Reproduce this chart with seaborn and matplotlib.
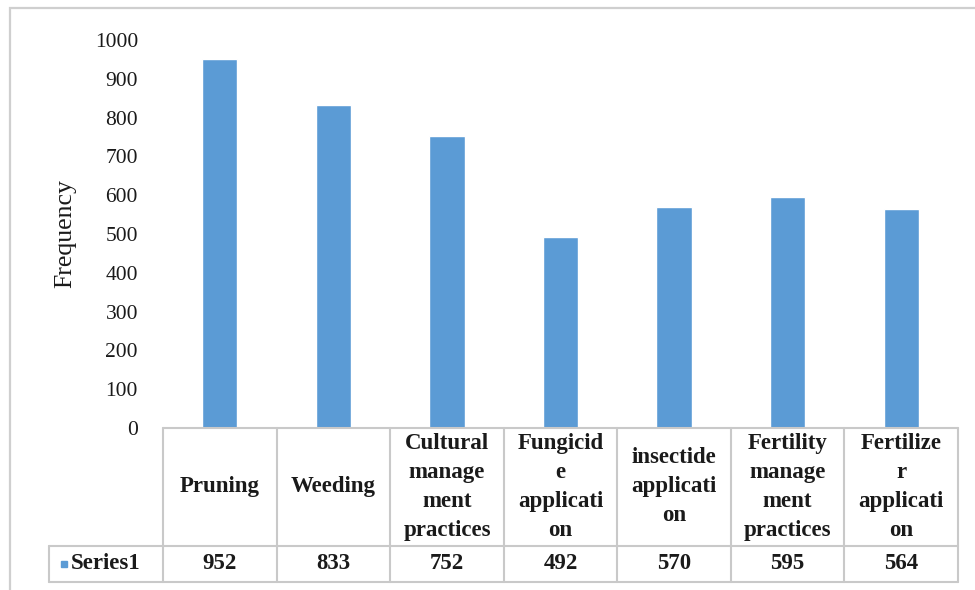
import matplotlib
matplotlib.use("Agg")
import matplotlib.pyplot as plt
from matplotlib.patches import Rectangle
import seaborn as sns
import pandas as pd

# Data
practices = [
    "Pruning",
    "Weeding",
    "Cultural\nmanage\nment\npractices",
    "Fungicid\ne\napplicati\non",
    "insectide\napplicati\non",
    "Fertility\nmanage\nment\npractices",
    "Fertilize\nr\napplicati\non",
]
frequency = [952, 833, 752, 492, 570, 595, 564]
series_name = "Series1"
y_ticks = [0, 100, 200, 300, 400, 500, 600, 700, 800, 900, 1000]

df = pd.DataFrame({"practice": practices, "frequency": frequency})

sns.set_theme(style="white")
plt.rcParams["font.family"] = ["Liberation Serif", "DejaVu Serif"]

BAR = "#5B9BD5"
GRID = "#C9C9C9"
TXT = "#1a1a1a"

W, H = 975, 590
fig = plt.figure(figsize=(W / 100, H / 100), dpi=100)
fig.patch.set_facecolor("white")

# chart-area frame
fig.patches.append(Rectangle((10 / W, -0.05), 1.2, (H - 8) / H + 0.05,
                             transform=fig.transFigure, fill=False,
                             edgecolor="#CFCFCF", lw=1.6, zorder=0))

ax = fig.add_axes([163 / W, (H - 428) / H, (958 - 163) / W, 388 / H])
sns.barplot(data=df, x="practice", y="frequency", color=BAR,
            saturation=1, width=0.31, ax=ax)

ax.set_xlim(-0.5, len(practices) - 0.5)
ax.set_ylim(0, 1000)
ax.set_yticks(y_ticks)
ax.set_yticklabels([str(t) for t in y_ticks], fontsize=15.5, color=TXT)
ax.tick_params(axis="y", length=0, pad=18)
ax.set_xticks([])
ax.set_xlabel("")
ax.set_ylabel("Frequency", fontsize=18.5, color=TXT)
ax.yaxis.set_label_coords(-0.109, 0.5)
for s in ax.spines.values():
    s.set_visible(False)

# data table under the plot
tr = ax.get_xaxis_transform()
y_mid, y_bot = -0.304, -0.397
n = len(practices)
line_kw = dict(color=GRID, lw=1.5, transform=tr, clip_on=False)
ax.plot([-0.5, n - 0.5], [0, 0], **line_kw)
ax.plot([-1.5, n - 0.5], [y_mid, y_mid], **line_kw)
ax.plot([-1.5, n - 0.5], [y_bot, y_bot], **line_kw)
ax.plot([-1.5, -1.5], [y_mid, y_bot], **line_kw)
for i in range(n + 1):
    ax.plot([i - 0.5, i - 0.5], [0, y_bot], **line_kw)

for i, (lab, val) in enumerate(zip(practices, frequency)):
    ax.text(i, y_mid / 2, lab, transform=tr, ha="center", va="center",
            fontsize=16.5, fontweight="bold", color=TXT, linespacing=1.5)
    ax.text(i, (y_mid + y_bot) / 2, str(val), transform=tr, ha="center",
            va="center", fontsize=16.5, fontweight="bold", color=TXT)

# legend key in the table
ax.plot([-1.37], [(y_mid + y_bot) / 2], marker="s", ms=5, color=BAR,
        transform=tr, clip_on=False, ls="none")
ax.text(-1.31, (y_mid + y_bot) / 2, series_name, transform=tr, ha="left",
        va="center", fontsize=16.5, fontweight="bold", color=TXT)

fig.savefig("out.png", dpi=100)
